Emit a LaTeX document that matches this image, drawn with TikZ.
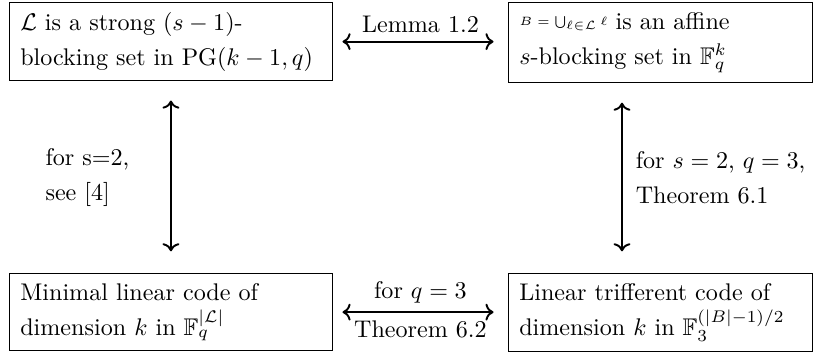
\documentclass[tikz,border=0pt]{standalone}
\usepackage{amsmath,amssymb}
\usepackage{tikz}
\usetikzlibrary{arrows.meta,positioning,calc}

\begin{document}
\begin{tikzpicture}[x=0.415pt, y=-0.415pt,
  every node/.style={font=\fontsize{10}{14.5}\selectfont},
  claim/.style={draw, thin, align=left, anchor=north west, inner xsep=4.5pt, inner ysep=4pt},
  link/.style={<->, thick, shorten <=4pt, shorten >=6pt},
  uplink/.style={<->, thick, shorten <=8pt, shorten >=9pt}]
  \useasboundingbox (0,0) rectangle (815,358);

  % the four statements
  \node[claim, text width=125pt] (lines) at (9,2)
    {$\mathcal{L}$ is a strong $(s-1)$-\\blocking set in $\mathrm{PG}(k-1,q)$};
  \node[claim, text width=117pt] (blocking) at (508,2)
    {\raisebox{1.5pt}{\tiny $B = \bigcup_{\ell\in\mathcal{L}}\ell$} is an affine\\$s$-blocking set in $\mathbb{F}_q^k$};
  \node[claim, text width=125pt] (mincode) at (9,273)
    {Minimal linear code of\\dimension $k$ in $\mathbb{F}_q^{|\mathcal{L}|}$};
  \node[claim, text width=117pt] (triff) at (508,273)
    {Linear trifferent code of\\dimension $k$ in $\mathbb{F}_3^{(|B|-1)/2}$};

  \coordinate (raxis) at (622,0);

  % equivalences
  \draw[link] (lines.east) -- (lines.east -| blocking.west)
    node[midway, above] {Lemma 1.2};
  \draw[link] (mincode.east) -- (mincode.east -| triff.west)
    node[midway, above] {for $q=3$}
    node[midway, below] {Theorem 6.2};
  \draw[uplink] (lines.south) -- (mincode.north)
    node[midway, left=13.5pt, align=left] {for s=2,\\see [4]};
  \draw[uplink] (blocking.south -| raxis) -- (triff.north -| raxis)
    node[midway, right=2pt, align=left] {for $s=2$, $q=3$,\\Theorem 6.1};
\end{tikzpicture}
\end{document}
